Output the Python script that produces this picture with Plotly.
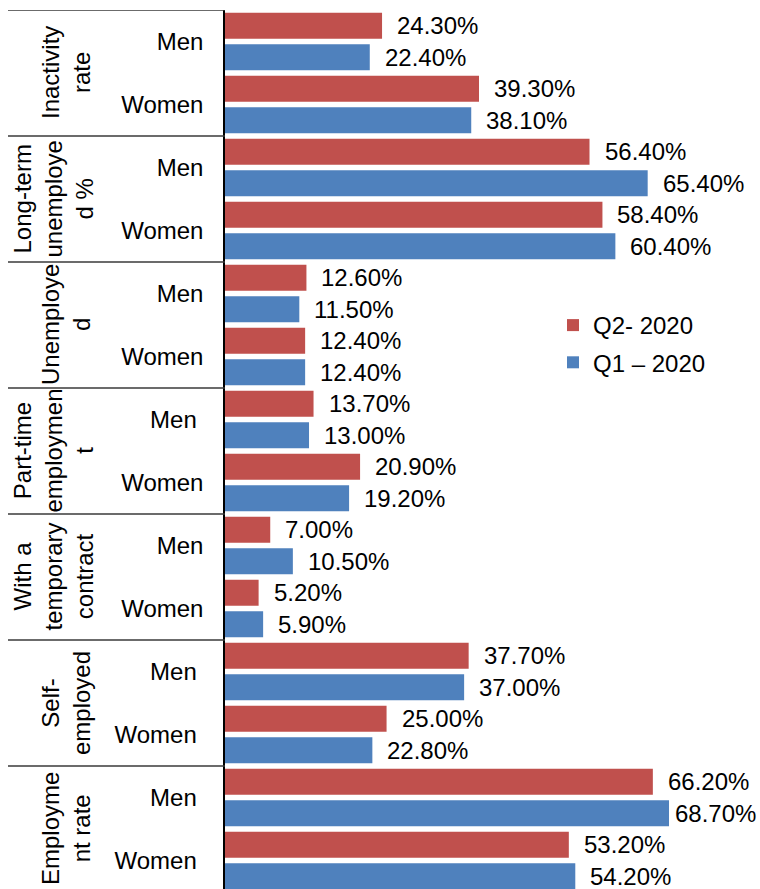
import plotly.graph_objects as go

# ---- data ----
groups = ["Inactivity rate", "Long-term unemployed %", "Unemployed",
          "Part-time employment", "With a temporary contract",
          "Self-employed", "Employment rate"]
group_labels = ["Inactivity<br>rate", "Long-term<br>unemploye<br>d %",
                "Unemploye<br>d", "Part-time<br>employmen<br>t",
                "With a<br>temporary<br>contract", "Self-<br>employed",
                "Employme<br>nt rate"]
sexes = ["Men", "Women"]
# sub-labels as they appear (some carry a trailing space in the source)
sub_labels = ["Men", "Women", "Men", "Women", "Men", "Women",
              "Men\u00a0", "Women", "Men", "Women",
              "Men\u00a0", "Women\u00a0", "Men\u00a0", "Women\u00a0"]
q2_2020 = [24.3, 39.3, 56.4, 58.4, 12.6, 12.4, 13.7, 20.9, 7.0, 5.2, 37.7, 25.0, 66.2, 53.2]
q1_2020 = [22.4, 38.1, 65.4, 60.4, 11.5, 12.4, 13.0, 19.2, 10.5, 5.9, 37.0, 22.8, 68.7, 54.2]
series_names = ["Q2- 2020", "Q1 \u2013 2020"]
series_colors = ["#C0504D", "#4F81BD"]

cats = [f"{g}|{s}" for g in groups for s in sexes]

FONT = "Liberation Sans, Arial, sans-serif"
FS = 24

fig = go.Figure()
for i, (name, vals, col) in enumerate(zip(series_names, [q2_2020, q1_2020], series_colors)):
    fig.add_trace(go.Bar(
        y=cats, x=vals, orientation="h", name=name,
        legendgroup=f"g{i}",
        marker=dict(color=col, line=dict(width=0)),
        hoverinfo="skip",
    ))

W, H = 760, 889
L, T = 225, 10
plot_w = W - L
px_per_pct = 6.463
px_per_cat = 63.0
plot_h = H - T
y_top = -0.5
y_bot = y_top + plot_h / px_per_cat
BARGROUPGAP = 0.175
LABEL_GAP = 13
LABEL_W = 3.391 * FS  # approx width of "00.00%"
RIGHT_LIMIT = 757

def xpaper(px):
    return (px - L) / plot_w

# value labels: placed at the end of each bar, in axis coordinates
annotations = []
n_series = 2
for s, vals in enumerate([q2_2020, q1_2020]):
    offset = (s - (n_series - 1) / 2) / n_series  # centre of each bar within its category
    for j, v in enumerate(vals):
        end_px = L + v * px_per_pct
        shift = LABEL_GAP
        if end_px + shift + 3 + LABEL_W > RIGHT_LIMIT:
            shift = RIGHT_LIMIT - LABEL_W - 3 - end_px
        annotations.append(dict(text=f"{v:.2f}%", xref="x", yref="y",
                                x=v, y=j + offset, xanchor="left", yanchor="middle",
                                xshift=shift, showarrow=False,
                                font=dict(size=FS, color="black", family=FONT)))

shapes = []
for i in range(len(groups)):
    yb = -0.5 + 2 * i
    shapes.append(dict(type="line", xref="paper", yref="y",
                       x0=xpaper(8), x1=0, y0=yb, y1=yb,
                       line=dict(color="#3a3a3a", width=1.5)))

for i, lab in enumerate(group_labels):
    nlines = lab.count("<br>") + 1
    cx = 66 if nlines == 2 else 52.5
    annotations.append(dict(text=lab, xref="paper", yref="y",
                            x=xpaper(cx), y=0.5 + 2 * i,
                            xanchor="center", yanchor="middle",
                            textangle=-90, showarrow=False,
                            font=dict(size=FS, color="black", family=FONT)))

fig.update_layout(
    width=W, height=H,
    margin=dict(l=L, r=0, t=T, b=0, pad=0),
    paper_bgcolor="white", plot_bgcolor="white",
    barmode="group", bargap=0.0, bargroupgap=BARGROUPGAP,
    font=dict(family=FONT, size=FS, color="black"),
    xaxis=dict(range=[0, plot_w / px_per_pct], visible=False, fixedrange=True),
    yaxis=dict(type="category", categoryorder="array", categoryarray=cats,
               range=[y_bot, y_top], tickvals=cats, ticktext=sub_labels,
               ticks="", showgrid=False, zeroline=False,
               showline=True, linecolor="black", linewidth=1.5,
               ticklabelstandoff=15,
               tickfont=dict(size=FS, color="black", family=FONT)),
    legend=dict(x=xpaper(553), y=1 - (303 - T) / plot_h, xanchor="left", yanchor="top",
                font=dict(size=FS, color="black", family=FONT),
                bgcolor="rgba(0,0,0,0)", traceorder="grouped", tracegroupgap=3),
    shapes=shapes, annotations=annotations,
)

fig.write_html("out.html")
